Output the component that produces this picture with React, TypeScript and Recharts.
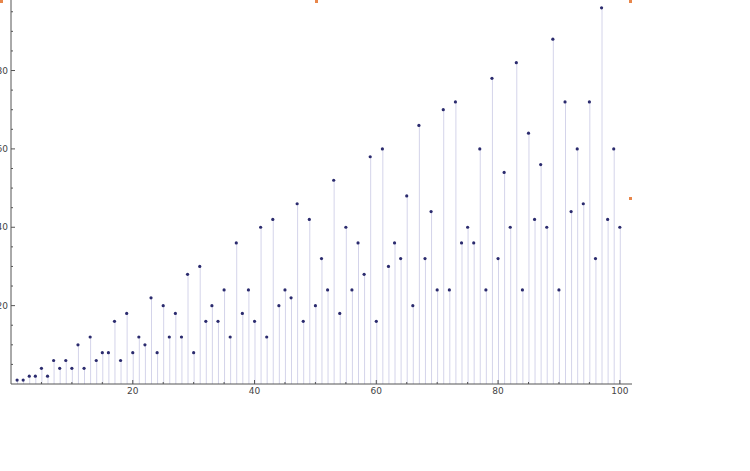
import { ComposedChart, Bar, Scatter, XAxis, YAxis } from 'recharts';

// n = 1..100 and the plotted value for each n
const ns = Array.from({ length: 100 }, (_, i) => i + 1);
const values = [
  1, 1, 2, 2, 4, 2, 6, 4, 6, 4,
  10, 4, 12, 6, 8, 8, 16, 6, 18, 8,
  12, 10, 22, 8, 20, 12, 18, 12, 28, 8,
  30, 16, 20, 16, 24, 12, 36, 18, 24, 16,
  40, 12, 42, 20, 24, 22, 46, 16, 42, 20,
  32, 24, 52, 18, 40, 24, 36, 28, 58, 16,
  60, 30, 36, 32, 48, 20, 66, 32, 44, 24,
  70, 24, 72, 36, 40, 36, 60, 24, 78, 32,
  54, 40, 82, 24, 64, 42, 56, 40, 88, 24,
  72, 44, 60, 46, 72, 32, 96, 42, 60, 40,
];
const xTicks = [5, 10, 15, 20, 25, 30, 35, 40, 45, 50, 55, 60, 65, 70, 75, 80, 85, 90, 95, 100];
const yTicks = [5, 10, 15, 20, 25, 30, 35, 40, 45, 50, 55, 60, 65, 70, 75, 80, 85, 90, 95];

const data = ns.map((n, i) => ({ n, v: values[i] }));

const axisColor = '#555';
const font = '"DejaVu Sans", sans-serif';

// ticks drawn inward like Mathematica, short for minor ones
const XTick = ({ x, y, payload }) => {
  const major = payload.value % 20 === 0;
  const len = major ? 4 : 2;
  return (
    <g>
      <line x1={x} x2={x} y1={y - 2} y2={y - 2 - len} stroke={axisColor} strokeWidth={1} />
      {major && (
        <text x={x} y={y + 2} textAnchor="middle" dominantBaseline="hanging" fontSize={9} fill="#444" fontFamily={font}>
          {payload.value}
        </text>
      )}
    </g>
  );
};

const YTick = ({ x, y, payload }) => {
  const major = payload.value % 20 === 0;
  const len = major ? 4 : 2;
  return (
    <g>
      <line x1={x + 3} x2={x + 3 + len} y1={y} y2={y} stroke={axisColor} strokeWidth={1} />
      {major && (
        <text x={x} y={y} textAnchor="end" dominantBaseline="central" fontSize={9} fill="#444" fontFamily={font}>
          {payload.value}
        </text>
      )}
    </g>
  );
};

const handle = (left, top) => (
  <div style={{ position: 'absolute', left, top, width: 3, height: 3, background: '#e8864a' }} />
);

export default function App() {
  return (
    <div style={{ position: 'absolute', left: 0, top: 0, width: 750, height: 471, background: '#fff' }}>
      <ComposedChart
        width={750}
        height={471}
        data={data}
        margin={{ top: 0, right: 118, bottom: 67, left: 0 }}
      >
        <XAxis
          dataKey="n"
          type="number"
          domain={[0, 102]}
          ticks={xTicks}
          tickLine={false}
          tickSize={0}
          tickMargin={2}
          height={20}
          stroke={axisColor}
          tick={<XTick />}
          interval={0}
        />
        <YAxis
          type="number"
          domain={[0, 98]}
          ticks={yTicks}
          tickLine={false}
          tickSize={0}
          tickMargin={3}
          width={11}
          stroke={axisColor}
          tick={<YTick />}
          interval={0}
        />
        <Bar dataKey="v" barSize={1} fill="#d4d4ea" isAnimationActive={false} />
        <Scatter
          dataKey="v"
          fill="#2b2b6e"
          isAnimationActive={false}
          shape={(p) => <circle cx={p.cx} cy={p.cy} r={1.6} fill="#2b2b6e" />}
        />
      </ComposedChart>
      {handle(0, 0)}
      {handle(315, 0)}
      {handle(629, 0)}
      {handle(629, 197)}
    </div>
  );
}
